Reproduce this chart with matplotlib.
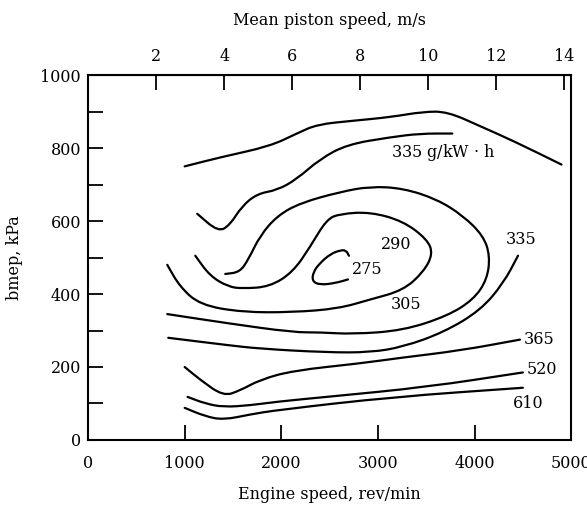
import numpy as np
import matplotlib
matplotlib.use('Agg')
import matplotlib.pyplot as plt
from matplotlib.path import Path
from matplotlib.patches import PathPatch

plt.rcParams['font.family'] = ['DejaVu Serif']
plt.rcParams['font.size'] = 11.5

# Curvas do mapa (rotação em rev/min, bmep em kPa)
topo_rpm = [1000, 1370, 1880, 2160, 2370, 2740, 3130, 3470, 3720, 4060, 4400, 4900]
topo_bmep = [750, 775, 805, 840, 865, 875, 885, 900, 900, 860, 820, 755]

c335a_rpm = [1130, 1350, 1470, 1590, 1750, 1960, 2160, 2400, 2680, 3130, 3440, 3770]
c335a_bmep = [620, 570, 590, 640, 675, 685, 715, 770, 810, 830, 840, 840]

c335b_rpm = [4450, 4300, 4060, 3680, 3260, 2920, 2470, 1780, 1440, 830]
c335b_bmep = [505, 430, 355, 295, 255, 240, 240, 250, 260, 280]

c305_rpm = [1420, 1570, 1660, 1780, 1960, 2200, 2610, 2920, 3260, 3610, 3880, 4090,
            4160, 4130, 3990, 3720, 3260, 2740, 2400, 2120, 1440, 820]
c305_bmep = [455, 460, 495, 560, 615, 650, 680, 695, 690, 660, 615, 560,
             505, 440, 385, 340, 300, 290, 295, 295, 320, 345]

c290_rpm = [1110, 1260, 1450, 1600, 1880, 2120, 2300, 2470, 2610, 2920, 3260, 3510,
            3570, 3470, 3260, 2920, 2590, 2120, 1600, 1160, 950, 820]
c290_bmep = [505, 450, 420, 415, 420, 460, 530, 605, 620, 625, 600, 550,
             510, 460, 410, 385, 360, 350, 350, 370, 420, 480]

c275_rpm = [2700, 2670, 2610, 2510, 2400, 2330, 2320, 2400, 2560, 2690]
c275_bmep = [505, 520, 520, 510, 485, 460, 435, 425, 430, 440]

c365_rpm = [1000, 1160, 1400, 1570, 1780, 2120, 2820, 3230, 3850, 4470]
c365_bmep = [200, 165, 120, 135, 165, 190, 210, 225, 245, 275]

c520_rpm = [1030, 1210, 1400, 1680, 1960, 2470, 3510, 4500]
c520_bmep = [118, 100, 90, 95, 105, 118, 145, 185]

c610_rpm = [1000, 1210, 1400, 1680, 1960, 3160, 4500]
c610_bmep = [88, 65, 55, 70, 82, 118, 143]

rotulos = ['335 g/kW $\\cdot$ h', '290', '275', '305', '335', '365', '520', '610']
rotulos_rpm = [3675, 3190, 2890, 3290, 4480, 4670, 4700, 4555]
rotulos_bmep = [788, 536, 467, 371, 549, 275, 192, 99]

curso = 0.0852  # m


def curva_suave(ax, xs, ys):
    # traça a poligonal como curva de Bézier quadrática (pontos lidos = pontos de controle)
    p = np.column_stack([xs, ys]).astype(float)
    verts = [p[0], (p[0] + p[1]) / 2]
    codes = [Path.MOVETO, Path.LINETO]
    for i in range(1, len(p) - 1):
        verts += [p[i], (p[i] + p[i + 1]) / 2]
        codes += [Path.CURVE3, Path.CURVE3]
    verts.append(p[-1])
    codes.append(Path.LINETO)
    ax.add_patch(PathPatch(Path(verts, codes), facecolor='none', edgecolor='black',
                           linewidth=1.6, capstyle='round', joinstyle='round'))


fig = plt.figure(figsize=(5.87, 5.08), dpi=100)
ax = fig.add_axes([0.150, 0.134, 0.823, 0.718])

curvas = [(topo_rpm, topo_bmep), (c335a_rpm, c335a_bmep), (c335b_rpm, c335b_bmep),
          (c305_rpm, c305_bmep), (c290_rpm, c290_bmep), (c275_rpm, c275_bmep),
          (c365_rpm, c365_bmep), (c520_rpm, c520_bmep), (c610_rpm, c610_bmep)]
for xs, ys in curvas:
    curva_suave(ax, xs, ys)

for txt, xr, yb in zip(rotulos, rotulos_rpm, rotulos_bmep):
    ax.text(xr, yb, txt, ha='center', va='center', fontsize=11.5)

ax.set_xlim(0, 5000)
ax.set_ylim(0, 1000)
ax.set_xticks([0, 1000, 2000, 3000, 4000, 5000])
ax.set_yticks([0, 200, 400, 600, 800, 1000])
ax.set_yticks([100, 300, 500, 700, 900], minor=True)
ax.tick_params(axis='both', which='both', direction='in', length=11, width=1.3)
ax.tick_params(axis='x', pad=11)
ax.tick_params(axis='y', pad=5)
for s in ax.spines.values():
    s.set_linewidth(1.5)

ax.set_xlabel('Engine speed, rev/min', labelpad=10)
ax.set_ylabel('bmep, kPa')
ax.yaxis.set_label_coords(-0.135, 0.5)

# eixo superior: velocidade média do pistão
sec = ax.secondary_xaxis('top', functions=(lambda n: 2 * curso * n / 60, lambda v: v * 60 / (2 * curso)))
sec.set_xticks([2, 4, 6, 8, 10, 12, 14])
sec.tick_params(direction='in', length=11, width=1.3, pad=7)
sec.set_xlabel('Mean piston speed, m/s', labelpad=17)

plt.savefig('out.png', dpi=100)
